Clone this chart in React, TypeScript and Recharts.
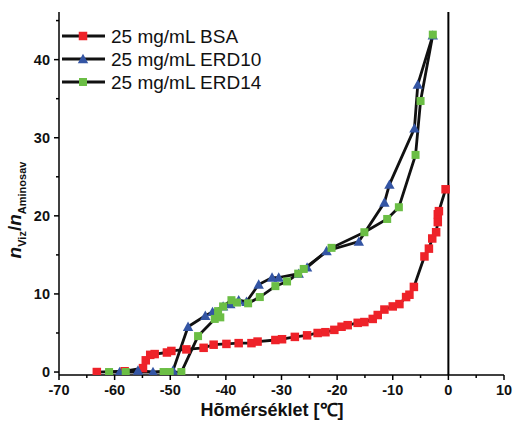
import React from "react";
import { ComposedChart, Line, XAxis, YAxis, ReferenceLine } from "recharts";

const bsa = [
  { x: -63.2, y: 0 }, { x: -58.2, y: 0.1 }, { x: -54.9, y: 0.5 }, { x: -54.4, y: 1.5 },
  { x: -53.6, y: 2.2 }, { x: -52.8, y: 2.3 }, { x: -50.6, y: 2.5 }, { x: -49.8, y: 2.7 },
  { x: -47.1, y: 2.9 }, { x: -44.0, y: 3.1 }, { x: -42.2, y: 3.5 }, { x: -39.9, y: 3.6 },
  { x: -37.7, y: 3.7 }, { x: -35.4, y: 3.7 }, { x: -34.3, y: 3.9 }, { x: -31.1, y: 4.1 },
  { x: -29.9, y: 4.2 }, { x: -27.6, y: 4.5 }, { x: -25.4, y: 4.7 }, { x: -23.5, y: 5.0 },
  { x: -22.1, y: 5.1 }, { x: -20.5, y: 5.4 }, { x: -19.2, y: 5.8 }, { x: -18.1, y: 6.0 },
  { x: -16.3, y: 6.3 }, { x: -15.1, y: 6.4 }, { x: -13.6, y: 6.8 }, { x: -12.7, y: 7.3 },
  { x: -11.5, y: 8.0 }, { x: -10.0, y: 8.4 }, { x: -8.8, y: 8.7 }, { x: -7.6, y: 9.6 },
  { x: -7.0, y: 9.9 }, { x: -6.2, y: 10.9 }, { x: -4.3, y: 14.8 }, { x: -3.5, y: 15.8 },
  { x: -2.9, y: 17.1 }, { x: -2.2, y: 17.9 }, { x: -1.9, y: 19.2 }, { x: -1.9, y: 20.2 },
  { x: -1.7, y: 20.6 }, { x: -0.5, y: 23.4 },
];

const erd10 = [
  { x: -59.1, y: 0 }, { x: -55.8, y: 0.2 }, { x: -53.1, y: 0 }, { x: -49.5, y: 0.2 },
  { x: -46.8, y: 5.8 }, { x: -43.7, y: 7.2 }, { x: -42.4, y: 7.7 }, { x: -40.5, y: 8.4 },
  { x: -39.2, y: 8.7 }, { x: -37.7, y: 9.2 }, { x: -36.3, y: 9.0 }, { x: -34.1, y: 11.2 },
  { x: -31.7, y: 12.1 }, { x: -30.5, y: 12.1 }, { x: -26.9, y: 12.6 }, { x: -25.4, y: 13.4 },
  { x: -21.9, y: 15.5 }, { x: -16.1, y: 16.7 }, { x: -11.5, y: 21.7 }, { x: -10.6, y: 24.0 },
  { x: -6.1, y: 31.2 }, { x: -5.5, y: 36.8 }, { x: -2.8, y: 43.1 },
];

const erd14 = [
  { x: -61.0, y: 0 }, { x: -58.0, y: 0 }, { x: -51.2, y: 0 }, { x: -50.1, y: 0 },
  { x: -48.0, y: 0 }, { x: -45.0, y: 4.6 }, { x: -42.0, y: 6.8 }, { x: -41.0, y: 7.0 },
  { x: -41.4, y: 7.8 }, { x: -40.5, y: 8.4 }, { x: -39.0, y: 9.2 }, { x: -38.0, y: 8.9 },
  { x: -36.0, y: 8.8 }, { x: -33.9, y: 9.6 }, { x: -31.1, y: 11.0 }, { x: -29.0, y: 11.6 },
  { x: -27.0, y: 12.6 }, { x: -26.0, y: 13.2 }, { x: -21.0, y: 15.9 }, { x: -15.1, y: 17.9 },
  { x: -11.0, y: 19.6 }, { x: -8.9, y: 21.1 }, { x: -5.9, y: 27.8 }, { x: -5.0, y: 34.7 },
  { x: -2.8, y: 43.2 },
];

const seriesNames = ["25 mg/mL BSA", "25 mg/mL ERD10", "25 mg/mL ERD14"];
const xTicks = [-70, -65, -60, -55, -50, -45, -40, -35, -30, -25, -20, -15, -10, -5, 0, 5, 10];
const yTicks = [0, 5, 10, 15, 20, 25, 30, 35, 40, 45];
const xLabels = [-70, -60, -50, -40, -30, -20, -10, 0, 10];
const yLabels = [0, 10, 20, 30, 40];

const RED = "#EE2229";
const BLUE = "#3455A4";
const GREEN = "#6BBE45";
const FONT = "Arial, 'Liberation Sans', sans-serif";

function Marker({ kind, cx, cy }: { kind: string; cx: number; cy: number }) {
  if (kind === "tri") {
    const s = 5.2;
    return <polygon points={`${cx},${cy - s} ${cx - s},${cy + s * 0.8} ${cx + s},${cy + s * 0.8}`} fill={BLUE} />;
  }
  const col = kind === "red" ? RED : GREEN;
  const s = kind === "red" ? 8.5 : 8;
  return <rect x={cx - s / 2} y={cy - s / 2} width={s} height={s} fill={col} />;
}

const mkDot = (kind: string) => (p: any) => (
  <Marker key={`${kind}-${p.index}`} kind={kind} cx={p.cx} cy={p.cy} />
);

const BottomTick = (p: any) => {
  const v = p.payload.value;
  const major = xLabels.includes(v);
  return (
    <g>
      <line x1={p.x} x2={p.x} y1={p.y} y2={p.y + (major ? 5 : 3)} stroke="#000" strokeWidth={1.5} />
      {major && (
        <text x={p.x} y={p.y + 20} textAnchor="middle" fontFamily={FONT} fontWeight="bold" fontSize={14.5} fill="#111">
          {v}
        </text>
      )}
    </g>
  );
};

const TopTick = (p: any) => {
  const v = p.payload.value;
  const major = xLabels.includes(v);
  return <line x1={p.x} x2={p.x} y1={p.y} y2={p.y + (major ? 5.5 : 3)} stroke="#000" strokeWidth={1.5} />;
};

const LeftTick = (p: any) => {
  const v = p.payload.value;
  const major = yLabels.includes(v);
  return (
    <g>
      <line x1={p.x} x2={p.x - (major ? 5 : 3)} y1={p.y} y2={p.y} stroke="#000" strokeWidth={1.5} />
      {major && (
        <text x={p.x - 9} y={p.y + 5} textAnchor="end" fontFamily={FONT} fontWeight="bold" fontSize={14.5} fill="#111">
          {v}
        </text>
      )}
    </g>
  );
};

const RightTick = (p: any) => {
  const v = p.payload.value;
  const major = yLabels.includes(v);
  return <line x1={p.x} x2={p.x - (major ? 6 : 3)} y1={p.y} y2={p.y} stroke="#000" strokeWidth={1.5} />;
};

export default function App() {
  const legendKinds = ["red", "tri", "green"];
  return (
    <div style={{ position: "absolute", left: 0, top: 0, width: 514, height: 422, background: "#fff" }}>
      <ComposedChart width={514} height={422} margin={{ top: 12, right: 10, left: 0, bottom: 0 }}>
        <XAxis
          xAxisId="b"
          type="number"
          dataKey="x"
          domain={[-70, 10]}
          ticks={xTicks}
          interval={0}
          height={47}
          tickSize={0}
          tickMargin={0}
          tickLine={false}
          axisLine={{ stroke: "#000", strokeWidth: 1.5 }}
          tick={BottomTick}
          allowDataOverflow
        />
        <XAxis
          xAxisId="t"
          orientation="top"
          type="number"
          dataKey="x"
          domain={[-70, 10]}
          ticks={xTicks}
          interval={0}
          height={0}
          tickSize={0}
          tickMargin={0}
          tickLine={false}
          axisLine={{ stroke: "#000", strokeWidth: 1.5 }}
          tick={TopTick}
          allowDataOverflow
        />
        <YAxis
          yAxisId="l"
          type="number"
          domain={[-0.38, 46.1]}
          ticks={yTicks}
          interval={0}
          width={59}
          tickSize={0}
          tickMargin={0}
          tickLine={false}
          axisLine={{ stroke: "#000", strokeWidth: 1.5 }}
          tick={LeftTick}
          allowDataOverflow
        />
        <YAxis
          yAxisId="r"
          orientation="right"
          type="number"
          domain={[-0.38, 46.1]}
          ticks={yTicks}
          interval={0}
          width={0}
          tickSize={0}
          tickMargin={0}
          tickLine={false}
          axisLine={{ stroke: "#000", strokeWidth: 1.5 }}
          tick={RightTick}
          allowDataOverflow
        />
        <ReferenceLine xAxisId="b" yAxisId="l" x={0} stroke="#000" strokeWidth={2} />
        <Line xAxisId="b" yAxisId="l" data={bsa} dataKey="y" type="linear" stroke="#111" strokeWidth={2.8}
          dot={mkDot("red")} activeDot={false} isAnimationActive={false} />
        <Line xAxisId="b" yAxisId="l" data={erd10} dataKey="y" type="linear" stroke="#111" strokeWidth={2.8}
          dot={mkDot("tri")} activeDot={false} isAnimationActive={false} />
        <Line xAxisId="b" yAxisId="l" data={erd14} dataKey="y" type="linear" stroke="#111" strokeWidth={2.8}
          dot={mkDot("green")} activeDot={false} isAnimationActive={false} />
      </ComposedChart>
      <svg width={514} height={422} style={{ position: "absolute", left: 0, top: 0, pointerEvents: "none" }}>
        {seriesNames.map((n, i) => {
          const y = 36 + i * 23;
          return (
            <g key={n}>
              <line x1={62} x2={105} y1={y} y2={y} stroke="#111" strokeWidth={2.8} />
              <Marker kind={legendKinds[i]} cx={83} cy={y} />
              <text x={111} y={y + 7} fontFamily={FONT} fontSize={19} fill="#111">{n}</text>
            </g>
          );
        })}
        <text x={272} y={416} textAnchor="middle" fontFamily={FONT} fontWeight="bold" fontSize={18} fill="#111">
          Hõmérséklet [℃]
        </text>
        <text transform="translate(21,210) rotate(-90)" textAnchor="middle" fontFamily={FONT} fontWeight="bold" fontSize={19} fill="#111">
          <tspan fontStyle="italic">n</tspan>
          <tspan fontSize={11} dy={5}>Viz</tspan>
          <tspan dy={-5}>/</tspan>
          <tspan fontStyle="italic">n</tspan>
          <tspan fontSize={11} dy={5}>Aminosav</tspan>
        </text>
      </svg>
    </div>
  );
}
